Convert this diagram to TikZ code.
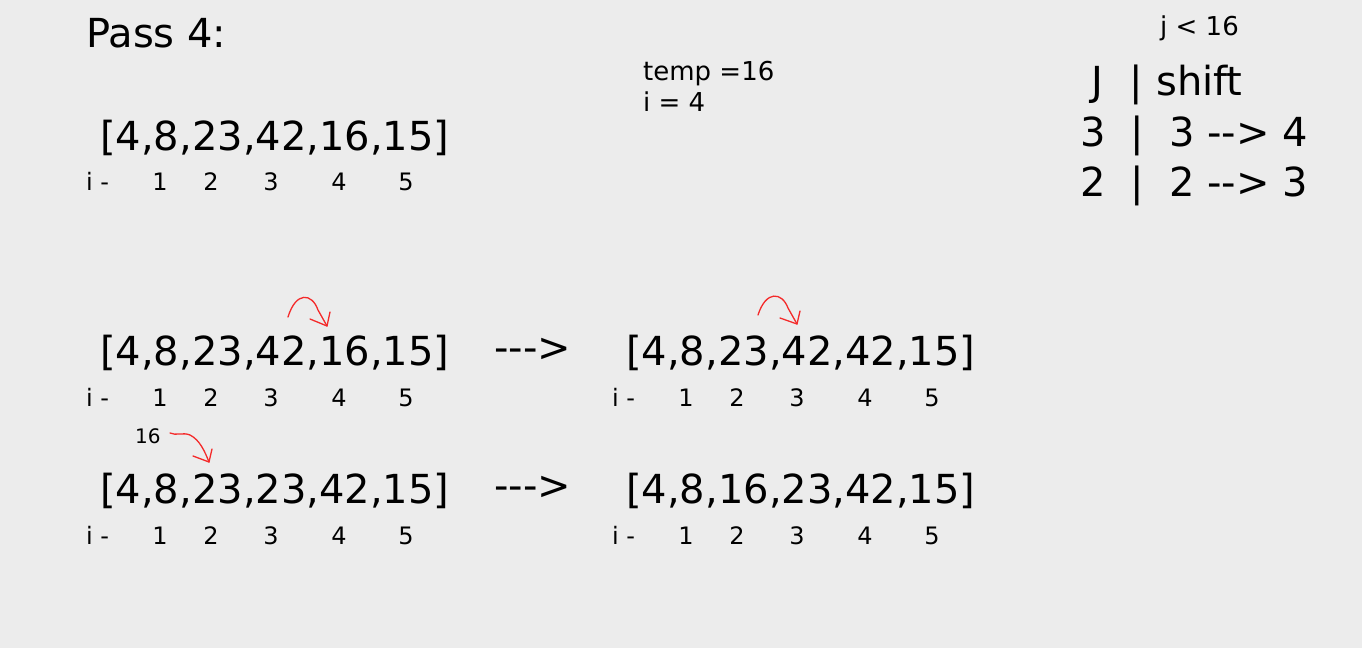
\documentclass[tikz,border=0pt]{standalone}
\usepackage{fontspec}
\setmainfont{DejaVu Sans}[Ligatures=TeXOff]
\definecolor{bgcol}{HTML}{ECECEC}
\definecolor{pen}{HTML}{F42A2A}
\tikzset{
  big/.style={font=\fontsize{40}{40}\selectfont, inner sep=0pt, anchor=base west},
  mid/.style={font=\fontsize{26}{26}\selectfont, inner sep=0pt, anchor=base west},
  idx/.style={font=\fontsize{24}{24}\selectfont, inner sep=0pt, anchor=base},
  small/.style={font=\fontsize{20}{20}\selectfont, inner sep=0pt, anchor=base west},
  stroke/.style={draw=pen, line width=1.3pt, line cap=round, line join=round}
}
\begin{document}
\begin{tikzpicture}[x=1pt, y=-1pt]
  \fill[bgcol] (0,0) rectangle (1362,648);
  \useasboundingbox (0,0) rectangle (1362,648);
  \node[big] (pass) at (86,47) {Pass 4:};
  \node[mid] (temp) at (643,80) {temp =16};
  \node[mid] (ival) at (643,111) {i = 4};
  \node[mid] (cond) at (1160,35) {j < 16};
  % j | shift table
  \node[big, anchor=base] (hJ) at (1097,95) {J};
  \node[big, anchor=base] (hbar) at (1136,95) {|};
  \node[big] (hshift) at (1156,95) {shift};
  \node[big, anchor=base] (rowA) at (1093,146) {3};
  \node[big, anchor=base] (barA) at (1137,146) {|};
  \node[big] (shiftA) at (1169,146) {3 --> 4};
  \node[big, anchor=base] (rowB) at (1093,196) {2};
  \node[big, anchor=base] (barB) at (1137,196) {|};
  \node[big] (shiftB) at (1169,196) {2 --> 3};
  % arrays
  \node[big] (arrA) at (100,150) {[4,8,23,42,16,15]};
  \node[big] (arrB) at (100,365) {[4,8,23,42,16,15]};
  \node[big] (arrC) at (100,503) {[4,8,23,23,42,15]};
  \node[big] (arrD) at (626,365) {[4,8,23,42,42,15]};
  \node[big] (arrE) at (626,503) {[4,8,16,23,42,15]};
  \node[big] (goB) at (494,361) {--->};
  \node[big] (goC) at (494,499) {--->};
  % index rows
  \foreach \dx/\y [count=\r] in {0/190, 0/406, 0/544, 526/406, 526/544} {
    \node[idx, anchor=base west] (i\r) at (86+\dx,\y) {i -};
    \foreach \x/\n in {160/1, 211/2, 271/3, 339/4, 406/5}
      \node[idx] (i\r n\n) at (\x+\dx,\y) {\n};
  }
  \node[small] (hold) at (135,443) {16};
  % red strokes
  \coordinate (s1) at (288,317);
  \coordinate (e1) at (327,326);
  \draw[stroke] (s1) .. controls (296,291) and (312,293) .. (318,310) -- (e1);
  \draw[stroke] (310,319) -- (e1) -- (330,312);
  \coordinate (s2) at (758,315);
  \coordinate (e2) at (797,324);
  \draw[stroke] (s2) .. controls (766,290) and (782,292) .. (788,308) -- (e2);
  \draw[stroke] (780,318) -- (e2) -- (800,311);
  \coordinate (s3) at (170,433);
  \coordinate (e3) at (209,462);
  \draw[stroke] (s3) .. controls (176,436) and (183,432) .. (190,435) .. controls (200,440) and (205,452) .. (e3);
  \draw[stroke] (193,456) -- (e3) -- (212,449);
\end{tikzpicture}
\end{document}
